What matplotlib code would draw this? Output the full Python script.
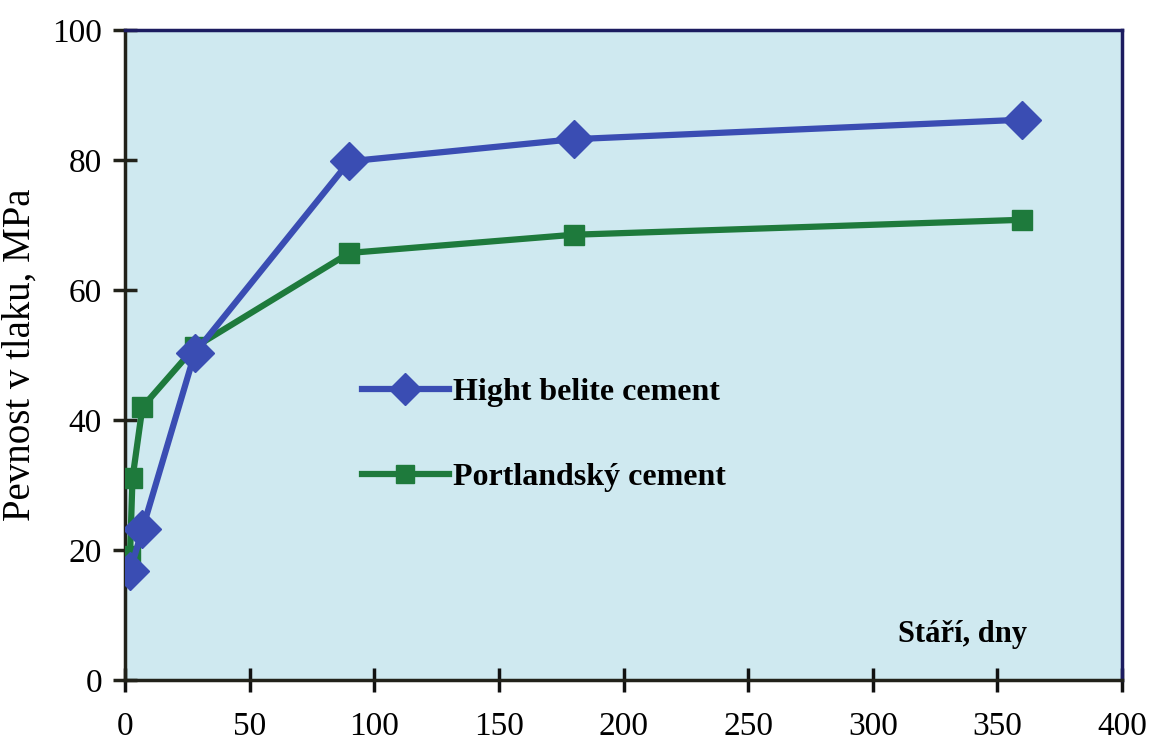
import matplotlib
matplotlib.use("Agg")
import matplotlib.pyplot as plt
from matplotlib.ticker import MultipleLocator

days_belite = [2, 7, 28, 90, 180, 360]
strength_belite = [16.7, 23.2, 50.3, 79.8, 83.2, 86.2]

days_portland = [2, 3, 7, 28, 90, 180, 360]
strength_portland = [19.0, 31.0, 42.0, 51.2, 65.7, 68.5, 70.8]

label_belite = "Hight belite cement"
label_portland = "Portlandský cement"
xlabel = "Stáří, dny"
ylabel = "Pevnost v tlaku, MPa"

plt.rcParams['font.family'] = ['Liberation Serif', 'DejaVu Serif']

fig = plt.figure(figsize=(11.5, 7.46), dpi=100)
ax = fig.add_axes([0.1087, 0.0885, 0.867, 0.8713])
ax.set_facecolor('#CFE9F0')

blue = '#3A4DB3'
green = '#1E7A3C'

ax.plot(days_portland, strength_portland, color=green, lw=4.5, marker='s',
        ms=15, label=label_portland, zorder=3)
ax.plot(days_belite, strength_belite, color=blue, lw=4.5, marker='D',
        ms=19, label=label_belite, zorder=4)

ax.set_xlim(0, 400)
ax.set_ylim(0, 100)
ax.xaxis.set_major_locator(MultipleLocator(50))
ax.yaxis.set_major_locator(MultipleLocator(20))

for side in ['left', 'bottom']:
    ax.spines[side].set_color('#22221A')
    ax.spines[side].set_linewidth(2.5)
for side in ['top', 'right']:
    ax.spines[side].set_color('#1C1C60')
    ax.spines[side].set_linewidth(2.5)

ax.tick_params(axis='x', direction='inout', length=17, width=2.5,
               color='#111111', labelsize=24, pad=14)
ax.tick_params(axis='y', direction='inout', length=17, width=2.5,
               color='#22221A', labelsize=24, pad=8)

ax.set_ylabel(ylabel, fontsize=28, labelpad=10)

ax.text(362, 7, xlabel, fontsize=22, fontweight='bold', ha='right', va='center')

handles, labels = ax.get_legend_handles_labels()
leg = ax.legend(handles[::-1], labels[::-1], loc='center left',
                bbox_to_anchor=(0.238, 0.377), frameon=False,
                prop={'size': 23, 'weight': 'bold'}, handlelength=2.7,
                handletextpad=0.15, labelspacing=1.75, borderpad=0,
                borderaxespad=0, markerscale=0.85)

fig.savefig("out.png", dpi=100)
